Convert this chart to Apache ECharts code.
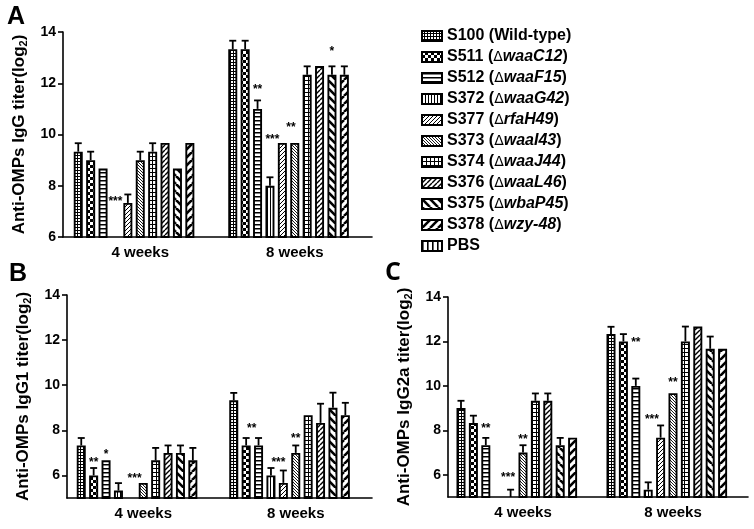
<!DOCTYPE html>
<html><head><meta charset="utf-8">
<script src="https://cdn.jsdelivr.net/npm/echarts@6/dist/echarts.min.js"></script>
<style>html,body{margin:0;padding:0;background:#fff}#c{width:754px;height:529px}</style>
</head><body><div id="c"></div>
<script>
// ---------------- data ----------------
var categories = ['4 weeks', '8 weeks'];
var seriesNames = ['S100 (Wild-type)', 'S511 (ΔwaaC12)', 'S512 (ΔwaaF15)', 'S372 (ΔwaaG42)',
  'S377 (ΔrfaH49)', 'S373 (ΔwaaI43)', 'S374 (ΔwaaJ44)', 'S376 (ΔwaaL46)', 'S375 (ΔwbaP45)',
  'S378 (Δwzy-48)', 'PBS'];

// Panel A: IgG
var igg4wk = [9.33, 9.0, 8.67, null, 7.33, 9.0, 9.33, 9.67, 8.67, 9.67, null];
var igg8wk = [13.33, 13.33, 11.0, 8.0, 9.67, 9.67, 12.33, 12.67, 12.33, 12.33, null];
var iggErr4wk = [0.33, 0.33, 0, 0, 0.33, 0.33, 0.33, 0, 0, 0, 0];
var iggErr8wk = [0.33, 0.33, 0.33, 0.33, 0, 0, 0.33, 0, 0.33, 0.33, 0];
var iggStars = [[0, 3, 7.5, '***'], [1, 2, 11.85, '**'], [1, 3.2, 9.9, '***'], [1, 4.7, 10.4, '**'], [1, 8, 13.35, '*']];

// Panel B: IgG1
var igg1_4wk = [7.33, 6.0, 6.67, 5.33, null, 5.67, 6.67, 7.0, 7.0, 6.67, null];
var igg1_8wk = [9.33, 7.33, 7.33, 6.0, 5.67, 7.0, 8.67, 8.33, 9.0, 8.67, null];
var igg1Err4wk = [0.33, 0.33, 0, 0.33, 0, 0, 0.55, 0.33, 0.33, 0.55, 0];
var igg1Err8wk = [0.33, 0.33, 0.33, 0.33, 0.55, 0.33, 0, 0.85, 0.67, 0.55, 0];
var igg1Stars = [[0, 1, 6.7, '**'], [0, 2, 7.05, '*'], [0, 4.3, 6.0, '***'], [1, 1.45, 8.2, '**'], [1, 3.6, 6.7, '***'], [1, 5, 7.75, '**']];

// Panel C: IgG2a
var igg2a_4wk = [9.0, 8.33, 7.33, null, 5.0, 7.0, 9.33, 9.33, 7.33, 7.67, null];
var igg2a_8wk = [12.33, 12.0, 10.0, 5.33, 7.67, 9.67, 12.0, 12.67, 11.67, 11.67, null];
var igg2aErr4wk = [0.33, 0.33, 0.33, 0, 0.33, 0.33, 0.33, 0.33, 0.33, 0, 0];
var igg2aErr8wk = [0.33, 0.33, 0.33, 0.33, 0.55, 0, 0.67, 0, 0.55, 0, 0];
var igg2aStars = [[0, 2, 8.2, '**'], [0, 3.8, 6.0, '***'], [0, 5, 7.7, '**'], [1, 2, 12.1, '**'], [1, 3.3, 8.6, '***'], [1, 5, 10.3, '**']];

var yTicks = [6, 8, 10, 12, 14];

// ---------------- styling / layout ----------------
var FONT = 'Liberation Sans';
var BW = 9, GAP = 3.4, N = seriesNames.length;
var PITCH = BW + GAP, TOTAL = N * BW + (N - 1) * GAP;
function slotOffset(s) { return -TOTAL / 2 + s * PITCH + BW / 2; }

function tile(w, h, draw) {
  var c = document.createElement('canvas'); c.width = w; c.height = h;
  var g = c.getContext('2d'); g.fillStyle = '#fff'; g.fillRect(0, 0, w, h);
  g.fillStyle = '#000'; g.strokeStyle = '#000'; draw(g, w, h);
  return { image: c, repeat: 'repeat' };
}
function diag(g, s, lw, dir) {
  g.lineWidth = lw;
  for (var k = -1; k <= 1; k++) {
    g.beginPath();
    if (dir > 0) { g.moveTo(k * s, s); g.lineTo(k * s + s, 0); }
    else { g.moveTo(k * s, 0); g.lineTo(k * s + s, s); }
    g.stroke();
  }
}
var patterns = [
  tile(3, 3, function (g) { g.fillRect(0, 0, 3, 3); g.fillStyle = '#fff'; g.fillRect(0, 0, 2, 2); }),
  tile(6, 6, function (g) { g.fillRect(0, 0, 6, 6); g.fillStyle = '#fff'; g.fillRect(0, 0, 3, 3); g.fillRect(3, 3, 3, 3); }),
  tile(4, 4, function (g) { g.fillRect(0, 0, 4, 1.5); }),
  tile(3, 3, function (g) { g.fillRect(0, 0, 1, 3); }),
  tile(4, 4, function (g) { diag(g, 4, 1, 1); }),
  tile(3, 3, function (g) { diag(g, 3, 0.9, -1); }),
  tile(4, 4, function (g) { g.fillRect(0, 0, 4, 1); g.fillRect(0, 0, 1, 4); }),
  tile(5, 5, function (g) { diag(g, 5, 1.4, 1); }),
  tile(8, 8, function (g) { diag(g, 8, 2.6, -1); }),
  tile(8, 8, function (g) { diag(g, 8, 2.6, 1); }),
  tile(5, 5, function (g) { g.fillRect(0, 0, 1.6, 5); })
];

var panels = [
  { grid: { left: 63, top: 32, width: 309, height: 205 }, min: 6, v4: igg4wk, v8: igg8wk, e4: iggErr4wk, e8: iggErr8wk, stars: iggStars, title: 'Anti-OMPs IgG titer(log{s|2})' },
  { grid: { left: 67, top: 295, width: 305, height: 203 }, min: 5, v4: igg1_4wk, v8: igg1_8wk, e4: igg1Err4wk, e8: igg1Err8wk, stars: igg1Stars, title: 'Anti-OMPs IgG1 titer(log{s|2})' },
  { grid: { left: 448, top: 297, width: 300, height: 200 }, min: 5, v4: igg2a_4wk, v8: igg2a_8wk, e4: igg2aErr4wk, e8: igg2aErr8wk, stars: igg2aStars, title: 'Anti-OMPs IgG2a titer(log{s|2})' }
];

var grids = [], xAxes = [], yAxes = [], series = [];
var axisLineStyle = { color: '#000', width: 1.6 };
var labelStyle = { color: '#000', fontFamily: FONT, fontWeight: 'bold' };

panels.forEach(function (p, pi) {
  var gi = grids.length;
  grids.push(p.grid);
  xAxes.push({
    type: 'category', gridIndex: gi, data: categories,
    axisLine: { lineStyle: axisLineStyle },
    axisTick: { alignWithLabel: true, length: 5, lineStyle: axisLineStyle },
    axisLabel: Object.assign({ fontSize: 15, margin: 8 }, labelStyle)
  });
  var ownLabels = (p.min === yTicks[0]);
  yAxes.push({
    type: 'value', gridIndex: gi, min: p.min, max: 14, interval: 2,
    splitLine: { show: false },
    axisLine: { show: true, lineStyle: axisLineStyle },
    axisTick: { show: ownLabels, length: 5, lineStyle: axisLineStyle },
    axisLabel: Object.assign({ show: ownLabels, fontSize: 14, margin: 7 }, labelStyle),
    name: p.title, nameLocation: 'middle', nameRotate: 90, nameGap: 34,
    nameTextStyle: {
      color: '#000', fontFamily: FONT, fontWeight: 'bold', fontSize: 17, lineHeight: 19,
      rich: { s: { fontSize: 11, fontWeight: 'bold', fontFamily: FONT, color: '#000', lineHeight: 11, verticalAlign: 'bottom' } }
    }
  });
  var yi = yAxes.length - 1, xi = xAxes.length - 1;
  seriesNames.forEach(function (nm, si) {
    series.push({
      type: 'bar', name: nm, xAxisIndex: xi, yAxisIndex: yi,
      data: [p.v4[si], p.v8[si]],
      barWidth: BW, barGap: (GAP / BW * 100) + '%',
      itemStyle: { color: patterns[si], borderColor: '#000', borderWidth: 1.9 },
      emphasis: { disabled: true }, animation: false
    });
  });
  var errs = [];
  [p.v4, p.v8].forEach(function (arr, ci) {
    var ee = ci ? p.e8 : p.e4;
    arr.forEach(function (v, si) { if (v != null && ee[si] > 0) errs.push([ci, si, v, ee[si]]); });
  });
  series.push({
    type: 'custom', xAxisIndex: xi, yAxisIndex: yi, z: 5, clip: false, animation: false,
    encode: { x: 0, y: 2 }, data: errs,
    renderItem: function (params, api) {
      var ci = api.value(0), si = api.value(1), v = api.value(2), e = api.value(3);
      var b = api.coord([ci, v]), t = api.coord([ci, v + e]);
      var x = b[0] + slotOffset(si);
      return { type: 'group', children: [
        { type: 'line', shape: { x1: x, y1: b[1], x2: x, y2: t[1] }, style: { stroke: '#000', lineWidth: 1.8 } },
        { type: 'line', shape: { x1: x - 3.5, y1: t[1], x2: x + 3.5, y2: t[1] }, style: { stroke: '#000', lineWidth: 1.8 } }
      ] };
    }
  });
  var stars = p.stars;
  series.push({
    type: 'custom', xAxisIndex: xi, yAxisIndex: yi, z: 6, clip: false, animation: false,
    encode: { x: 0, y: 2 }, data: stars.map(function (s) { return [s[0], s[1], s[2]]; }),
    renderItem: function (params, api) {
      var c = api.coord([api.value(0), api.value(2)]);
      return { type: 'text', x: c[0] + slotOffset(api.value(1)), y: c[1] + 3,
        style: { text: stars[params.dataIndex][3], fill: '#000', font: 'bold 12px ' + FONT, align: 'center', verticalAlign: 'middle' } };
    }
  });
  if (!ownLabels) {
    // label-only axis placed so its ticks sit on the even values of the main axis
    var g = p.grid, h = g.height * (14 - yTicks[0]) / (14 - p.min);
    grids.push({ left: g.left, top: g.top, width: g.width, height: h });
    var lg = grids.length - 1;
    xAxes.push({ type: 'category', gridIndex: lg, data: categories, show: false });
    yAxes.push({
      type: 'value', gridIndex: lg, min: yTicks[0], max: 14, interval: 2,
      splitLine: { show: false }, axisLine: { show: false },
      axisTick: { show: true, length: 5, lineStyle: axisLineStyle },
      axisLabel: Object.assign({ fontSize: 14, margin: 7 }, labelStyle)
    });
  }
});

function fmtLegend(name) {
  var m = name.match(/^(.*\()Δ(.*)(\))$/);
  if (!m) return '{n|' + name + '}';
  return '{n|' + m[1] + '}{d|Δ}{i|' + m[2] + '}{n|)}';
}

var chart = echarts.init(document.getElementById('c'), null, { renderer: 'canvas' });
chart.setOption({
  animation: false,
  backgroundColor: '#fff',
  grid: grids, xAxis: xAxes, yAxis: yAxes, series: series,
  legend: {
    orient: 'vertical', left: 416, top: 23, itemWidth: 20, itemHeight: 10, itemGap: 5,
    icon: 'rect', selectedMode: false, data: seriesNames, formatter: fmtLegend,
    textStyle: {
      color: '#000', fontFamily: FONT, fontWeight: 'bold', fontSize: 16,
      rich: {
        n: { color: '#000', fontFamily: FONT, fontWeight: 'bold', fontSize: 16 },
        d: { color: '#000', fontFamily: 'DejaVu Sans', fontWeight: 'normal', fontSize: 14 },
        i: { color: '#000', fontFamily: FONT, fontWeight: 'bold', fontStyle: 'italic', fontSize: 16 }
      }
    }
  },
  graphic: [
    { type: 'text', left: 7, top: 5, style: { text: 'A', font: 'bold 25px ' + FONT, fill: '#000' } },
    { type: 'text', left: 9, top: 262, style: { text: 'B', font: 'bold 25px ' + FONT, fill: '#000' } },
    { type: 'text', left: 385, top: 260, style: { text: 'C', font: 'bold 25px "Open Sans"', fill: '#000' } }
  ]
});
</script>
</body></html>
